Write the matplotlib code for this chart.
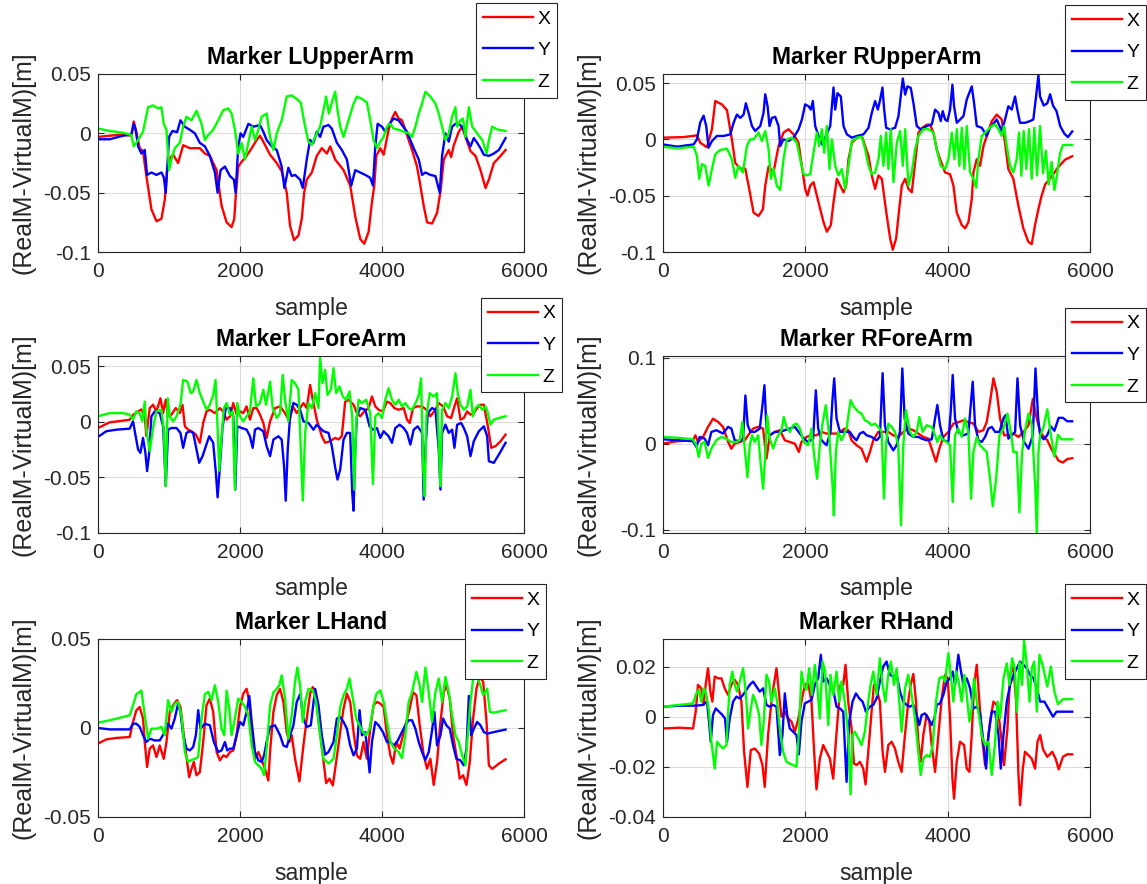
import numpy as np
import matplotlib
matplotlib.use('Agg')
import matplotlib.pyplot as plt
from matplotlib.ticker import FuncFormatter

plt.rcParams['font.family'] = ['Liberation Sans', 'DejaVu Sans']
plt.rcParams['axes.unicode_minus'] = False

# (sample, RealM-VirtualM [m]), one list per marker/axis

# Marker LUpperArm
lu_x = [(0,-0.003),(165,-0.002),(353,-0.001),(470,-0.002),(504,0.010),(541,0.001),(588,-0.0125),(635,-0.015),(682,-0.036),(753,-0.064),(824,-0.074),(894,-0.072),(941,-0.056),(974,-0.031),(1012,-0.021),(1059,-0.018),(1129,-0.025),(1200,-0.010),(1294,-0.0125),(1435,-0.0125),(1506,-0.017),(1576,-0.019),(1671,-0.031),(1741,-0.061),(1812,-0.075),(1882,-0.079),(1920,-0.072),(1944,-0.050),(1976,-0.028),(2024,-0.024),(2094,-0.019),(2165,-0.0125),(2235,-0.0056),(2282,-0.002),(2329,-0.007),(2424,-0.018),(2518,-0.025),(2588,-0.032),(2659,-0.050),(2706,-0.078),(2762,-0.090),(2824,-0.086),(2871,-0.072),(2904,-0.050),(2941,-0.039),(3012,-0.033),(3082,-0.019),(3153,-0.0125),(3224,-0.017),(3271,-0.011),(3341,-0.022),(3459,-0.031),(3553,-0.044),(3624,-0.070),(3694,-0.089),(3751,-0.093),(3812,-0.083),(3859,-0.058),(3892,-0.044),(3920,-0.019),(3976,-0.0125),(4024,-0.018),(4094,0.003),(4141,0.0125),(4188,0.018),(4235,0.0125),(4282,0.011),(4329,0.003),(4376,-0.0056),(4424,-0.014),(4494,-0.028),(4541,-0.044),(4588,-0.061),(4635,-0.075),(4706,-0.076),(4776,-0.067),(4824,-0.049),(4871,-0.022),(4941,-0.014),(4974,-0.020),(5012,-0.010),(5082,0.0014),(5129,0.0056),(5176,-0.003),(5247,-0.015),(5318,-0.019),(5388,-0.031),(5459,-0.046),(5506,-0.039),(5576,-0.025),(5671,-0.019),(5741,-0.014)]
lu_y = [(0,-0.005),(165,-0.005),(353,-0.002),(470,-0.001),(504,0.008),(531,0.003),(565,-0.011),(612,-0.017),(659,-0.014),(692,-0.035),(753,-0.033),(824,-0.035),(894,-0.033),(927,-0.037),(955,-0.050),(974,-0.031),(1002,-0.003),(1049,0.002),(1115,0.001),(1162,0.011),(1224,0.0056),(1294,0.003),(1365,0.0),(1435,-0.008),(1506,-0.011),(1576,-0.019),(1647,-0.033),(1685,-0.050),(1727,-0.031),(1788,-0.028),(1859,-0.036),(1915,-0.039),(1939,-0.050),(1976,-0.011),(2009,0.0),(2047,-0.003),(2118,0.008),(2188,0.0056),(2282,0.007),(2329,0.0014),(2376,-0.0056),(2447,-0.011),(2518,-0.014),(2588,-0.028),(2626,-0.046),(2682,-0.029),(2729,-0.036),(2776,-0.035),(2847,-0.039),(2885,-0.046),(2941,-0.022),(2988,-0.0056),(3035,-0.008),(3082,0.0014),(3129,-0.003),(3176,0.0056),(3247,0.007),(3294,0.004),(3365,-0.008),(3435,-0.014),(3506,-0.022),(3567,-0.044),(3624,-0.031),(3694,-0.033),(3765,-0.035),(3835,-0.0375),(3873,-0.044),(3906,-0.011),(3939,0.008),(4000,0.0056),(4047,0.0014),(4094,0.007),(4165,0.0125),(4235,0.011),(4282,0.007),(4353,0.0014),(4400,-0.0056),(4447,-0.0125),(4518,-0.022),(4565,-0.035),(4612,-0.033),(4682,-0.035),(4753,-0.036),(4814,-0.050),(4847,-0.019),(4894,0.0),(4941,-0.007),(4988,0.0056),(5035,0.008),(5106,0.007),(5153,0.003),(5200,-0.0056),(5247,-0.011),(5294,-0.004),(5341,-0.008),(5388,-0.0125),(5435,-0.018),(5506,-0.019),(5576,-0.017),(5647,-0.014),(5741,-0.004)]
lu_z = [(0,0.004),(165,0.002),(353,0.0005),(470,-0.0014),(504,-0.011),(565,-0.0056),(635,0.0014),(706,0.022),(776,0.0236),(847,0.021),(894,0.022),(927,0.008),(965,0.003),(1002,-0.031),(1035,-0.022),(1082,-0.0125),(1153,-0.008),(1200,0.0056),(1247,0.014),(1318,0.011),(1388,0.019),(1459,0.008),(1506,-0.0056),(1553,-0.0014),(1623,0.003),(1694,0.011),(1765,0.0195),(1835,0.021),(1882,0.0167),(1929,0.003),(1976,-0.017),(2024,-0.008),(2071,-0.022),(2118,-0.008),(2165,0.0056),(2212,-0.0056),(2259,0.003),(2306,0.014),(2376,0.0167),(2424,-0.003),(2471,-0.014),(2518,0.0),(2588,0.011),(2659,0.031),(2729,0.032),(2800,0.029),(2856,0.026),(2918,0.0056),(2965,-0.007),(3012,-0.0097),(3059,-0.003),(3129,0.0056),(3176,0.0195),(3214,0.031),(3252,0.0167),(3294,0.026),(3341,0.035),(3374,0.0195),(3412,0.0056),(3459,-0.003),(3529,0.011),(3600,0.025),(3647,0.031),(3718,0.029),(3788,0.026),(3835,0.011),(3882,-0.0056),(3929,-0.0125),(3976,-0.007),(4024,-0.003),(4071,0.0056),(4118,0.008),(4165,0.004),(4235,0.003),(4306,0.0014),(4376,0.0),(4424,-0.003),(4471,0.0056),(4518,0.0167),(4565,0.025),(4612,0.035),(4682,0.031),(4753,0.025),(4800,0.0167),(4847,0.0056),(4894,-0.0056),(4941,0.0),(4988,0.014),(5035,0.022),(5059,0.0056),(5106,0.011),(5141,0.0125),(5176,-0.003),(5224,0.022),(5271,0.0056),(5341,0.0),(5412,-0.0056),(5474,-0.017),(5506,-0.0056),(5553,0.0056),(5623,0.0033),(5741,0.002)]

# Marker RUpperArm
ru_x = [(0,0.0015),(290,0.002),(477,0.0035),(524,-0.003),(618,-0.007),(688,0.009),(735,0.034),(828,0.031),(899,0.026),(968,0.0),(1016,-0.021),(1086,-0.026),(1156,-0.026),(1203,-0.041),(1273,-0.065),(1343,-0.068),(1404,-0.062),(1437,-0.041),(1484,-0.024),(1554,-0.029),(1624,-0.006),(1694,0.006),(1764,0.009),(1835,0.0044),(1905,-0.003),(1952,-0.024),(1998,-0.044),(2031,-0.050),(2069,-0.041),(2115,-0.038),(2186,-0.056),(2256,-0.0735),(2303,-0.082),(2359,-0.076),(2396,-0.056),(2443,-0.035),(2490,-0.041),(2537,-0.047),(2574,-0.041),(2607,-0.0176),(2654,-0.003),(2724,0.0015),(2794,0.003),(2841,-0.006),(2888,-0.0147),(2934,-0.032),(2981,-0.044),(3028,-0.032),(3075,-0.035),(3145,-0.068),(3192,-0.088),(3229,-0.098),(3276,-0.088),(3309,-0.068),(3356,-0.041),(3403,-0.035),(3450,-0.044),(3496,-0.047),(3543,-0.0205),(3590,0.006),(3637,0.010),(3707,0.013),(3753,0.013),(3800,0.006),(3847,-0.009),(3894,-0.0176),(3964,-0.0294),(4034,-0.031),(4081,-0.041),(4128,-0.065),(4198,-0.076),(4245,-0.079),(4292,-0.0735),(4339,-0.053),(4362,-0.0294),(4409,-0.0176),(4456,-0.0235),(4503,-0.006),(4549,0.003),(4619,0.016),(4690,0.022),(4760,0.0176),(4806,-0.003),(4853,-0.0264),(4923,-0.035),(4994,-0.059),(5064,-0.079),(5134,-0.091),(5181,-0.093),(5228,-0.076),(5275,-0.062),(5320,-0.05),(5370,-0.04),(5450,-0.034),(5550,-0.025),(5650,-0.018),(5750,-0.015)]
ru_y = [(0,-0.0045),(197,-0.0065),(431,-0.0045),(477,0.0),(524,0.015),(571,0.021),(608,0.0118),(641,-0.0074),(688,-0.0015),(758,0.003),(852,0.003),(946,0.0044),(992,0.0147),(1039,0.022),(1086,0.019),(1133,0.022),(1165,0.032),(1203,0.0235),(1250,0.0118),(1296,0.0074),(1367,0.0118),(1413,0.0235),(1437,0.040),(1470,0.0294),(1497,0.0118),(1530,0.019),(1577,0.020),(1624,0.0118),(1647,-0.006),(1694,0.0),(1764,-0.0015),(1835,0.0015),(1905,0.0088),(1952,0.0176),(1998,0.031),(2045,0.0294),(2078,0.0264),(2106,0.034),(2139,0.0118),(2186,0.003),(2232,-0.0044),(2279,0.0015),(2350,0.0118),(2396,0.046),(2420,0.0264),(2452,0.041),(2499,0.038),(2537,0.0118),(2584,0.0044),(2654,0.0015),(2724,0.003),(2817,0.0044),(2888,0.0103),(2934,0.0235),(2981,0.034),(3019,0.0264),(3051,0.035),(3084,0.046),(3108,0.0264),(3136,0.0103),(3192,0.0088),(3262,0.0103),(3309,0.0206),(3346,0.041),(3370,0.054),(3403,0.0397),(3435,0.047),(3482,0.0456),(3519,0.0323),(3566,0.0118),(3622,0.0088),(3707,0.0118),(3777,0.0132),(3824,0.0264),(3871,0.0235),(3903,0.0162),(3931,0.025),(3964,0.0176),(3997,0.0162),(4034,0.0264),(4067,0.0485),(4090,0.0294),(4128,0.0147),(4175,0.0176),(4222,0.0206),(4268,0.0353),(4339,0.047),(4371,0.0323),(4409,0.0118),(4479,0.0103),(4549,0.003),(4596,0.0103),(4690,0.0176),(4760,0.0074),(4806,0.0176),(4853,0.0294),(4900,0.0264),(4947,0.038),(4979,0.0264),(5017,0.0147),(5087,0.0147),(5157,0.0162),(5204,0.0176),(5242,0.038),(5275,0.057),(5298,0.038),(5350,0.03),(5400,0.032),(5440,0.04),(5480,0.03),(5530,0.025),(5580,0.012),(5640,0.005),(5690,0.002),(5750,0.007)]
ru_z = [(0,-0.0065),(197,-0.008),(431,-0.0065),(477,-0.0147),(510,-0.035),(548,-0.022),(594,-0.0235),(641,-0.041),(688,-0.0264),(735,-0.0132),(805,-0.0094),(899,-0.0082),(968,-0.0176),(1016,-0.034),(1062,-0.0235),(1123,-0.0294),(1179,-0.006),(1226,0.0),(1273,0.0),(1343,0.006),(1390,-0.0015),(1437,0.0074),(1484,-0.0088),(1516,-0.035),(1554,-0.0264),(1600,-0.041),(1647,-0.045),(1694,-0.0176),(1741,0.0),(1811,0.0015),(1881,-0.003),(1928,-0.0176),(1975,-0.0308),(2022,-0.032),(2069,-0.0308),(2115,-0.0118),(2162,0.006),(2195,-0.006),(2232,0.009),(2265,-0.0118),(2303,0.012),(2340,-0.0264),(2373,0.0),(2420,-0.0235),(2466,-0.032),(2513,-0.0264),(2560,-0.044),(2607,-0.0235),(2654,-0.0015),(2724,0.0015),(2794,0.0024),(2841,-0.0088),(2888,-0.0235),(2934,-0.0308),(2981,-0.0294),(3028,-0.0176),(3061,0.003),(3098,-0.0235),(3136,0.006),(3168,-0.0264),(3201,0.009),(3239,-0.038),(3286,-0.003),(3332,0.0074),(3370,-0.0235),(3403,0.009),(3450,-0.041),(3496,-0.0294),(3543,-0.009),(3590,0.003),(3660,0.009),(3730,0.009),(3800,0.006),(3847,-0.009),(3903,-0.0235),(3964,-0.0264),(4011,-0.0176),(4058,0.006),(4095,-0.0176),(4128,0.009),(4165,-0.0235),(4198,0.0103),(4235,-0.0264),(4268,0.0118),(4315,-0.0294),(4362,-0.035),(4400,-0.043),(4432,-0.0176),(4479,0.003),(4549,0.0074),(4619,0.0118),(4666,0.0132),(4713,0.009),(4760,0.003),(4793,0.0118),(4830,-0.006),(4877,-0.0235),(4923,-0.0294),(4970,-0.0176),(5003,0.006),(5036,-0.0323),(5068,0.0074),(5106,-0.0264),(5143,0.009),(5181,-0.035),(5218,0.0103),(5256,-0.032),(5298,0.0118),(5340,-0.03),(5380,-0.01),(5420,-0.04),(5460,-0.02),(5500,-0.045),(5540,-0.03),(5580,-0.012),(5620,-0.005),(5750,-0.005)]

# Marker LForeArm
lf_x = [(0,-0.0057),(165,-0.0006),(353,0.0009),(447,0.0018),(494,0.006),(565,0.0092),(612,0.011),(659,0.0048),(682,-0.013),(729,0.0122),(776,0.0152),(824,0.0092),(880,0.021),(918,0.0077),(955,0.0197),(988,0.0048),(1035,0.0063),(1096,0.0122),(1153,0.0077),(1191,0.015),(1224,-0.0042),(1270,-0.0072),(1318,-0.0086),(1379,-0.0116),(1435,-0.019),(1482,-0.0012),(1529,0.0092),(1576,0.0107),(1647,0.0077),(1718,0.0122),(1765,0.0092),(1812,0.0018),(1859,0.0048),(1906,0.0167),(1953,0.0063),(2000,0.0092),(2047,0.0077),(2094,0.0137),(2141,0.0018),(2188,0.0122),(2235,0.0122),(2282,0.0063),(2329,-0.0012),(2376,-0.0146),(2424,0.0003),(2494,0.0122),(2565,0.0137),(2635,0.0077),(2697,0.0003),(2744,0.0137),(2800,0.0077),(2847,0.0122),(2894,0.0167),(2941,0.0122),(2988,0.033),(3026,0.0196),(3082,0.0018),(3153,-0.013),(3200,-0.019),(3271,-0.0175),(3341,-0.0146),(3388,-0.016),(3435,-0.013),(3482,0.018),(3529,0.0196),(3600,0.0152),(3647,0.0077),(3694,0.0048),(3751,0.0092),(3812,0.0122),(3859,0.0226),(3906,0.0137),(3953,0.0107),(4014,0.0092),(4071,0.018),(4118,0.0167),(4174,0.0122),(4235,0.0107),(4306,0.0122),(4353,0.0018),(4391,-0.0012),(4438,0.0122),(4494,0.0137),(4565,0.0137),(4626,0.0107),(4682,0.0048),(4753,0.0107),(4800,0.0167),(4861,0.0137),(4918,0.0048),(4974,0.0033),(5021,0.0137),(5059,0.021),(5106,0.0018),(5153,0.0033),(5200,0.0092),(5247,0.0063),(5294,0.0077),(5341,0.0122),(5388,0.0152),(5435,0.0152),(5492,-0.0042),(5539,-0.0235),(5600,-0.022),(5671,-0.0176),(5741,-0.0116)]
lf_y = [(0,-0.0137),(118,-0.0086),(259,-0.0072),(447,-0.0063),(494,0.0003),(531,-0.013),(565,-0.025),(598,-0.028),(635,-0.0146),(668,-0.028),(692,-0.0444),(720,-0.0295),(753,0.0048),(800,0.0092),(870,0.0077),(918,-0.0042),(955,-0.0578),(988,-0.0072),(1035,-0.0057),(1106,-0.0057),(1162,-0.0101),(1200,-0.0235),(1247,-0.0101),(1294,-0.0086),(1341,-0.0101),(1388,-0.025),(1426,-0.037),(1473,-0.031),(1520,-0.022),(1567,-0.0131),(1623,-0.019),(1661,-0.046),(1685,-0.068),(1718,-0.0399),(1755,-0.0042),(1802,0.0122),(1859,0.0122),(1906,0.0048),(1934,-0.061),(1962,-0.0042),(2024,-0.0057),(2094,-0.0072),(2141,-0.0131),(2179,-0.0235),(2212,-0.0072),(2259,-0.0057),(2329,-0.0086),(2376,-0.022),(2424,-0.031),(2471,-0.0161),(2541,-0.0131),(2588,-0.0161),(2621,-0.0399),(2645,-0.071),(2673,-0.0250),(2706,0.0048),(2753,0.0167),(2800,0.0152),(2847,0.0107),(2894,0.0003),(2965,-0.0012),(3035,-0.0072),(3082,-0.0027),(3129,-0.0057),(3176,-0.0086),(3247,-0.0101),(3294,-0.022),(3341,-0.041),(3374,-0.052),(3412,-0.043),(3459,-0.0161),(3506,-0.0101),(3553,-0.0101),(3581,-0.064),(3600,-0.080),(3624,-0.025),(3647,0.0048),(3694,0.0122),(3765,0.0107),(3826,-0.0042),(3873,-0.0072),(3929,-0.0057),(3976,-0.0146),(4024,-0.0086),(4094,-0.0131),(4141,-0.019),(4188,-0.0057),(4249,-0.0027),(4306,-0.0057),(4353,-0.0101),(4400,-0.0206),(4447,-0.0072),(4503,-0.0042),(4565,-0.0101),(4588,-0.070),(4612,-0.025),(4645,0.0077),(4706,0.0122),(4753,0.0107),(4800,-0.025),(4824,-0.061),(4847,-0.0101),(4894,-0.0027),(4941,-0.0101),(4988,-0.0072),(5021,-0.0235),(5059,-0.0027),(5115,-0.0012),(5153,-0.0057),(5200,-0.0131),(5247,-0.031),(5294,-0.0175),(5365,-0.0086),(5435,-0.0042),(5482,-0.0131),(5506,-0.0355),(5576,-0.037),(5647,-0.0295),(5741,-0.019)]
lf_z = [(0,0.0048),(165,0.0077),(353,0.0077),(447,0.0063),(494,0.0018),(541,0.0092),(588,0.0077),(626,0.0003),(659,0.018),(682,-0.0072),(729,-0.0265),(776,-0.0057),(824,0.0092),(894,0.0107),(927,-0.0072),(955,-0.058),(983,0.021),(1012,0.0048),(1059,0.0003),(1106,0.0048),(1162,0.0152),(1200,0.0375),(1261,0.036),(1308,0.0256),(1341,0.027),(1388,0.0375),(1435,0.0256),(1482,0.0182),(1529,0.0107),(1576,0.0152),(1623,0.024),(1656,0.0375),(1680,0.0018),(1708,-0.044),(1741,-0.0131),(1774,0.0122),(1812,0.0167),(1859,0.0063),(1897,0.0092),(1929,-0.061),(1962,0.0167),(2000,0.0048),(2047,0.0003),(2094,0.0048),(2141,0.0092),(2188,0.039),(2226,0.0137),(2282,0.0167),(2329,0.0286),(2367,0.0152),(2424,0.036),(2461,0.0122),(2518,0.0033),(2565,0.0077),(2602,0.042),(2635,0.0197),(2682,0.0003),(2729,0.0375),(2776,0.0346),(2824,0.0286),(2856,-0.025),(2885,-0.071),(2918,-0.0101),(2965,0.0167),(3012,0.0122),(3059,0.0256),(3106,0.0122),(3129,0.058),(3162,0.0346),(3200,0.0465),(3233,0.024),(3280,0.0286),(3318,0.048),(3355,0.0256),(3402,0.0316),(3449,0.0226),(3496,0.0197),(3543,0.0271),(3581,0.0048),(3609,-0.061),(3638,-0.0012),(3671,0.0197),(3718,0.0167),(3779,0.0197),(3835,0.0077),(3873,-0.056),(3906,0.0048),(3953,0.0077),(4000,0.0033),(4047,0.0197),(4094,0.030),(4141,0.0197),(4188,0.0152),(4235,0.0197),(4282,0.0137),(4329,0.0167),(4376,0.0122),(4424,0.0107),(4485,0.0182),(4518,0.024),(4551,0.039),(4579,-0.0399),(4603,-0.067),(4626,0.0048),(4673,0.0256),(4729,0.0226),(4776,0.0256),(4804,-0.025),(4824,-0.058),(4847,0.0107),(4894,0.0167),(4941,0.0122),(4988,0.0226),(5035,0.0435),(5068,0.0256),(5106,0.0152),(5153,0.0107),(5200,0.0137),(5247,0.0286),(5280,0.0048),(5318,0.0122),(5365,0.0152),(5412,0.0107),(5459,0.0137),(5492,0.0077),(5529,-0.0027),(5576,0.0018),(5647,0.0033),(5741,0.0048)]

# Marker RForeArm
rf_x = [(0,0.0),(188,0.0027),(422,0.0039),(455,0.0097),(492,0.0019),(563,0.0078),(633,0.0195),(703,0.029),(774,0.0253),(844,0.0195),(915,0.0019),(961,-0.006),(1008,0.0),(1079,0.0019),(1149,0.0039),(1196,0.0097),(1266,0.0175),(1337,0.0195),(1407,0.0175),(1454,-0.0175),(1501,0.0097),(1571,0.0136),(1642,0.0156),(1712,0.0039),(1782,0.0019),(1853,0.0),(1909,-0.0097),(1946,0.0019),(2017,0.0078),(2087,0.0097),(2157,0.0097),(2228,0.0136),(2298,0.0117),(2368,0.0117),(2439,0.0117),(2486,0.0136),(2556,0.0175),(2603,0.0156),(2650,0.0039),(2720,-0.0019),(2790,-0.006),(2861,-0.021),(2908,-0.0097),(2955,0.0039),(3025,0.0136),(3095,0.0136),(3166,0.0136),(3236,0.0097),(3306,0.0078),(3377,0.0136),(3447,0.0175),(3518,0.0156),(3588,0.0117),(3658,0.0078),(3729,0.0058),(3790,-0.0097),(3836,-0.021),(3883,-0.006),(3940,0.0078),(4010,0.0136),(4080,0.0233),(4150,0.025),(4221,0.027),(4291,0.025),(4362,0.0233),(4432,0.0136),(4502,0.0156),(4549,0.0253),(4596,0.0486),(4643,0.076),(4690,0.060),(4737,0.029),(4793,0.0097),(4854,0.0097),(4924,0.0117),(4995,0.0078),(5065,0.0136),(5136,0.0214),(5197,0.052),(5253,0.029),(5300,0.0136),(5350,0.008),(5400,0.004),(5450,-0.005),(5500,-0.012),(5560,-0.02),(5620,-0.022),(5680,-0.018),(5750,-0.017)]
rf_y = [(0,0.005),(235,0.0039),(422,0.0027),(469,-0.0039),(516,0.0078),(586,0.0058),(633,-0.0019),(680,0.0136),(750,0.0156),(844,0.0117),(915,0.0195),(961,0.0175),(1008,0.0039),(1079,0.0027),(1126,0.0058),(1158,0.056),(1191,0.0214),(1229,0.0136),(1290,0.0136),(1360,0.0175),(1398,0.0447),(1426,0.068),(1454,0.0175),(1501,0.0097),(1571,0.0136),(1642,0.0136),(1712,0.0156),(1782,0.0175),(1853,0.0195),(1923,0.0117),(1979,0.0058),(2040,0.0019),(2110,0.0058),(2148,0.062),(2181,0.0175),(2228,0.0039),(2298,-0.0019),(2354,0.0136),(2383,0.0525),(2406,0.076),(2439,0.0292),(2486,0.0136),(2556,0.0136),(2626,0.0136),(2673,0.0078),(2720,0.0039),(2767,0.0117),(2814,0.0136),(2861,0.0097),(2931,0.0078),(3002,0.0039),(3048,0.0078),(3086,0.082),(3119,0.0214),(3166,0.0019),(3236,-0.0078),(3283,-0.0019),(3330,0.0136),(3363,0.0875),(3396,0.0292),(3447,0.0117),(3518,0.0078),(3588,0.0078),(3635,0.0058),(3705,0.0039),(3776,0.005),(3823,0.0292),(3855,0.045),(3893,0.0214),(3940,0.0039),(4010,0.0019),(4043,0.0370),(4071,0.080),(4104,0.0292),(4150,0.0136),(4221,0.0097),(4291,0.0117),(4324,0.0447),(4352,0.072),(4385,0.0214),(4432,0.0039),(4479,0.0019),(4526,0.0078),(4573,0.0175),(4620,0.0195),(4667,0.0136),(4728,0.0136),(4784,0.0292),(4812,0.0331),(4854,0.0058),(4901,0.0097),(4948,0.0136),(4981,0.076),(5018,0.0214),(5074,0.0019),(5136,-0.006),(5197,0.0097),(5234,0.0875),(5272,0.0292),(5300,0.0097),(5350,0.005),(5400,0.01),(5450,0.02),(5500,0.015),(5560,0.03),(5620,0.03),(5680,0.026),(5750,0.026)]
rf_z = [(0,0.0078),(235,0.0066),(422,0.005),(469,-0.0019),(502,-0.0155),(539,0.0),(586,0.0019),(633,-0.0167),(680,-0.0058),(750,0.0039),(821,0.0078),(891,0.0058),(961,0.0019),(1032,0.0019),(1079,0.0039),(1116,0.0253),(1149,-0.0058),(1187,-0.039),(1220,-0.0019),(1252,0.0097),(1290,0.0019),(1337,0.0097),(1370,-0.0214),(1407,-0.0525),(1440,-0.0097),(1463,0.033),(1501,0.0058),(1548,-0.0058),(1595,0.0058),(1665,0.0156),(1698,0.031),(1735,0.0195),(1782,0.0136),(1829,0.0214),(1876,0.0233),(1923,0.0175),(1979,0.0019),(2040,-0.0019),(2087,0.0175),(2124,-0.0136),(2166,-0.041),(2204,-0.0019),(2241,0.0233),(2288,0.0447),(2335,0.0097),(2383,-0.049),(2401,-0.0836),(2429,-0.0097),(2462,0.0136),(2509,0.0039),(2580,0.0175),(2636,0.0506),(2683,0.0428),(2744,0.037),(2790,0.035),(2837,0.0272),(2884,0.0253),(2931,0.0214),(2978,0.0233),(3025,0.0195),(3072,0.0136),(3105,-0.064),(3133,-0.0019),(3166,0.0233),(3213,0.0195),(3260,0.0136),(3306,-0.0019),(3344,-0.095),(3377,-0.0019),(3414,0.039),(3471,0.0136),(3518,0.0078),(3565,0.0136),(3602,0.031),(3649,0.0136),(3705,0.0214),(3776,0.0195),(3823,0.0097),(3855,0.0019),(3893,0.0097),(3940,0.0039),(3987,0.0019),(4034,-0.0019),(4071,-0.068),(4104,0.0097),(4150,0.0175),(4197,0.0078),(4244,0.0292),(4291,0.0136),(4329,-0.064),(4362,-0.0097),(4409,0.0078),(4456,-0.0019),(4502,-0.006),(4549,-0.0097),(4596,-0.041),(4634,-0.073),(4681,-0.041),(4728,0.0097),(4784,0.0175),(4840,0.035),(4887,0.0136),(4924,-0.0097),(4971,-0.0097),(5009,-0.080),(5046,-0.0097),(5093,0.0175),(5136,0.035),(5183,0.0214),(5230,-0.049),(5253,-0.105),(5276,-0.0097),(5300,0.0097),(5350,0.02),(5400,0.04),(5450,0.01),(5500,-0.015),(5550,0.01),(5600,0.005),(5750,0.005)]

# Marker LHand
lh_x = [(0,-0.0088),(118,-0.0064),(259,-0.0056),(447,-0.0051),(494,0.0034),(541,0.0099),(588,0.0118),(635,0.0053),(659,-0.0079),(692,-0.0219),(729,-0.0116),(776,-0.0098),(824,-0.0163),(870,-0.0098),(927,-0.0173),(965,-0.0079),(1012,0.0090),(1068,0.0135),(1115,0.0156),(1162,0.0118),(1209,-0.0041),(1256,-0.0191),(1285,-0.0276),(1318,-0.0229),(1350,-0.0191),(1388,-0.0266),(1435,-0.0248),(1482,-0.0079),(1529,0.0128),(1576,0.0165),(1623,0.009),(1671,-0.0135),(1718,-0.0182),(1765,-0.0154),(1812,-0.0163),(1859,-0.0135),(1906,-0.0126),(1953,-0.0041),(2000,0.0118),(2047,0.0193),(2094,0.022),(2132,0.0146),(2165,-0.0041),(2212,-0.0173),(2259,-0.0135),(2306,-0.0182),(2353,-0.0229),(2400,-0.0295),(2424,-0.0135),(2471,0.009),(2518,0.0184),(2565,0.022),(2612,0.0146),(2659,-0.0023),(2697,-0.0079),(2729,-0.0041),(2776,-0.0173),(2838,-0.030),(2894,-0.0098),(2941,0.0053),(2988,0.0193),(3026,0.023),(3073,0.0165),(3120,-0.0004),(3167,-0.0154),(3214,-0.031),(3261,-0.0285),(3308,-0.0323),(3355,-0.0191),(3412,-0.0023),(3459,0.0109),(3506,0.0193),(3553,0.0146),(3600,-0.0023),(3647,-0.0154),(3694,-0.0173),(3741,-0.0079),(3788,-0.0173),(3835,-0.0004),(3882,0.0128),(3929,0.0146),(3976,0.0137),(4024,0.0118),(4071,-0.0041),(4118,-0.0154),(4156,-0.020),(4202,-0.0079),(4249,-0.0116),(4296,-0.0041),(4343,0.0034),(4391,0.0109),(4438,0.020),(4485,0.0184),(4532,0.0015),(4588,-0.0154),(4635,-0.0229),(4682,-0.0173),(4729,-0.032),(4776,-0.0191),(4824,0.0034),(4871,0.020),(4908,0.024),(4955,0.0165),(5002,-0.0041),(5049,-0.0154),(5096,-0.0285),(5143,-0.0266),(5190,-0.032),(5237,-0.0191),(5284,0.0053),(5331,0.022),(5378,0.0287),(5426,0.0259),(5473,0.0034),(5506,-0.0210),(5553,-0.023),(5647,-0.020),(5741,-0.0176)]
lh_y = [(0,0.0),(165,-0.0008),(447,-0.0008),(494,0.0024),(541,0.0024),(588,0.0006),(635,-0.0041),(682,-0.0079),(729,-0.006),(800,-0.007),(870,-0.007),(941,-0.0023),(988,0.0024),(1035,-0.0004),(1082,0.0053),(1129,0.0137),(1162,0.009),(1200,-0.0041),(1247,-0.0116),(1294,-0.0126),(1341,-0.0107),(1379,-0.0041),(1412,0.010),(1445,-0.0004),(1506,0.0024),(1576,0.0015),(1633,-0.0079),(1694,-0.0135),(1741,-0.0126),(1788,-0.0079),(1821,-0.0126),(1859,-0.0116),(1906,-0.0116),(1953,-0.0041),(2000,0.0034),(2047,0.0015),(2094,0.009),(2132,0.018),(2165,0.0034),(2212,-0.0135),(2259,-0.0182),(2306,-0.0191),(2339,-0.0154),(2376,-0.0079),(2424,0.0006),(2494,0.0015),(2565,-0.0041),(2612,-0.0098),(2659,-0.0107),(2706,-0.0041),(2753,0.0015),(2800,0.0146),(2847,0.019),(2894,0.0053),(2941,0.0006),(2998,0.0015),(3059,0.022),(3106,0.0128),(3153,-0.0041),(3200,-0.015),(3247,-0.0135),(3318,-0.0079),(3365,0.0053),(3412,0.0062),(3459,0.0034),(3506,-0.0004),(3553,-0.0098),(3600,-0.0154),(3647,-0.0116),(3685,0.010),(3718,-0.0041),(3765,-0.0023),(3798,-0.0135),(3826,-0.025),(3859,-0.0079),(3906,0.0034),(3953,0.0015),(4014,-0.0023),(4071,-0.0079),(4118,-0.0079),(4165,-0.0098),(4212,-0.0079),(4259,-0.0041),(4329,0.0015),(4376,0.0043),(4424,0.0043),(4471,-0.0004),(4518,-0.0079),(4565,-0.0135),(4612,-0.018),(4659,-0.0135),(4706,-0.0013),(4739,0.0090),(4776,-0.0098),(4824,-0.0041),(4861,0.0053),(4908,0.0015),(4955,-0.0004),(5002,-0.0098),(5049,-0.0173),(5106,-0.0182),(5153,-0.021),(5190,-0.0116),(5224,0.018),(5256,-0.0041),(5294,-0.0004),(5341,0.0034),(5388,0.0015),(5435,-0.0023),(5482,-0.0032),(5576,-0.0023),(5741,-0.0009)]
lh_z = [(0,0.003),(165,0.0043),(353,0.0062),(447,0.0071),(494,0.0128),(541,0.019),(612,0.021),(659,0.0071),(706,-0.006),(753,-0.0004),(824,-0.0004),(894,0.0006),(941,-0.0041),(988,0.0156),(1035,0.009),(1082,0.0137),(1129,0.0146),(1176,0.0071),(1224,-0.0135),(1270,-0.019),(1318,-0.018),(1365,-0.0173),(1412,-0.0163),(1459,0.0053),(1506,0.019),(1553,0.0203),(1600,0.0156),(1647,0.024),(1694,0.0146),(1741,-0.0004),(1779,-0.0041),(1812,0.021),(1849,0.0109),(1882,-0.0041),(1929,0.0053),(1976,0.0165),(2024,0.0146),(2071,0.0118),(2118,0.0071),(2165,-0.0098),(2212,-0.0191),(2259,-0.021),(2306,-0.0229),(2339,-0.0266),(2376,-0.0116),(2424,0.0128),(2471,0.020),(2518,0.022),(2555,0.024),(2588,0.0296),(2635,0.0165),(2682,-0.006),(2729,0.0071),(2776,0.0259),(2809,0.034),(2847,0.0240),(2885,0.0034),(2918,0.0146),(2965,0.022),(3026,0.0212),(3073,0.0146),(3129,-0.0041),(3176,-0.0173),(3247,-0.020),(3318,-0.0173),(3365,-0.0041),(3412,0.0118),(3459,0.0184),(3506,0.022),(3543,0.0278),(3590,0.0165),(3638,0.0053),(3685,0.0015),(3732,-0.0023),(3779,-0.0041),(3826,-0.0004),(3873,0.0109),(3920,0.019),(3976,0.0212),(4024,0.0146),(4071,0.0034),(4118,-0.0079),(4174,-0.0116),(4235,-0.0135),(4282,-0.017),(4329,-0.0041),(4376,0.0146),(4424,0.020),(4485,0.0315),(4532,0.024),(4565,0.0146),(4612,0.034),(4659,0.020),(4706,0.0034),(4753,0.020),(4800,0.0278),(4847,0.0146),(4894,0.0287),(4941,0.020),(4988,0.0071),(5035,-0.0041),(5082,-0.0079),(5129,-0.0154),(5176,-0.021),(5209,-0.0041),(5247,0.0146),(5284,0.0278),(5331,0.0296),(5378,0.025),(5426,0.0184),(5482,0.0221),(5520,0.009),(5576,0.0086),(5741,0.01)]

# Marker RHand
rh_x = [(0,-0.0047),(235,-0.0044),(422,-0.0047),(460,0.002),(492,0.0127),(539,0.0113),(572,0.0047),(600,0.0127),(633,0.0193),(666,0.01),(694,0.006),(727,0.016),(774,0.0153),(821,0.0153),(868,0.0113),(915,0.0087),(961,0.0127),(1008,0.0147),(1055,0.0127),(1102,0.006),(1140,-0.014),(1187,-0.028),(1234,-0.0133),(1290,-0.0127),(1351,-0.0147),(1398,-0.0193),(1430,-0.028),(1477,-0.0073),(1524,0.006),(1557,0.0127),(1595,0.0193),(1632,0.0087),(1665,0.0),(1712,0.002),(1759,-0.0007),(1806,-0.002),(1853,-0.006),(1899,-0.0013),(1946,0.006),(1993,0.0127),(2040,0.0133),(2087,0.006),(2124,-0.014),(2157,-0.029),(2204,-0.0167),(2251,-0.0113),(2298,-0.014),(2345,-0.0167),(2392,-0.0247),(2429,-0.01),(2462,0.002),(2495,0.0127),(2533,0.0127),(2565,0.0207),(2603,0.006),(2650,-0.0047),(2683,-0.0187),(2720,-0.0193),(2767,-0.018),(2814,-0.0207),(2847,-0.027),(2884,-0.014),(2931,0.002),(2964,0.0127),(3002,0.0107),(3048,0.006),(3086,-0.014),(3119,-0.022),(3166,-0.0113),(3213,-0.01),(3260,-0.0127),(3306,-0.018),(3353,-0.022),(3400,-0.0073),(3447,0.006),(3480,0.0127),(3518,0.017),(3555,0.006),(3588,-0.01),(3621,-0.018),(3658,-0.0073),(3705,0.0007),(3743,-0.002),(3776,-0.0113),(3823,-0.022),(3870,-0.0073),(3916,0.0073),(3963,0.0167),(4001,0.0153),(4034,-0.0007),(4067,-0.0247),(4090,-0.0327),(4127,-0.018),(4174,-0.01),(4231,-0.0113),(4268,-0.0207),(4306,-0.022),(4338,-0.0073),(4371,0.0127),(4409,0.0207),(4446,0.006),(4479,-0.0073),(4526,-0.0193),(4559,-0.0113),(4596,-0.002),(4643,0.006),(4690,0.0047),(4727,-0.002),(4760,-0.01),(4793,-0.0193),(4840,-0.0047),(4878,0.0167),(4925,0.020),(4962,0.006),(4995,-0.0233),(5018,-0.0353),(5056,-0.0207),(5087,-0.014),(5134,-0.0153),(5181,-0.0167),(5228,-0.0207),(5262,-0.01),(5300,-0.0073),(5340,-0.013),(5400,-0.016),(5470,-0.014),(5520,-0.017),(5560,-0.021),(5620,-0.016),(5680,-0.015),(5750,-0.015)]
rh_y = [(0,0.004),(235,0.0044),(469,0.0044),(563,0.0047),(619,0.006),(647,-0.002),(671,-0.01),(703,0.0007),(741,0.0033),(788,0.002),(835,0.0007),(872,-0.0007),(900,-0.01),(938,-0.0007),(985,0.006),(1032,0.008),(1079,0.0073),(1126,0.0087),(1173,0.0107),(1219,0.0127),(1266,0.014),(1313,0.012),(1360,0.01),(1407,0.0113),(1454,0.0047),(1501,0.004),(1548,0.0047),(1595,0.004),(1642,-0.0153),(1679,-0.0073),(1712,0.0093),(1745,0.0007),(1782,-0.0047),(1829,-0.006),(1876,-0.0073),(1909,-0.015),(1946,-0.002),(1993,0.0053),(2040,0.006),(2087,0.0067),(2134,0.0127),(2181,0.0153),(2218,0.0247),(2251,0.014),(2298,0.0153),(2345,0.0127),(2392,0.0107),(2439,0.004),(2486,0.0033),(2533,0.002),(2580,-0.026),(2617,-0.002),(2664,0.006),(2711,0.0093),(2758,0.0073),(2805,0.006),(2852,0.002),(2908,0.004),(2955,0.0047),(3002,0.0073),(3048,0.014),(3095,0.02),(3142,0.022),(3189,0.0167),(3236,0.016),(3283,0.0167),(3330,0.01),(3377,0.006),(3424,0.0047),(3471,0.004),(3518,0.0047),(3565,0.0007),(3602,-0.0033),(3635,0.0007),(3682,0.0013),(3729,-0.0007),(3776,-0.0033),(3813,-0.0007),(3846,0.0047),(3893,0.0053),(3940,0.0087),(3987,0.014),(4034,0.0153),(4071,0.018),(4104,0.0127),(4150,0.0247),(4188,0.018),(4221,0.0127),(4268,0.0153),(4315,0.0113),(4362,0.0033),(4409,0.004),(4456,0.0013),(4502,-0.01),(4540,-0.0207),(4573,-0.0073),(4620,0.002),(4667,0.002),(4714,-0.0073),(4747,-0.0207),(4784,-0.0073),(4831,0.006),(4878,0.0127),(4925,0.0167),(4972,0.0193),(5018,0.022),(5065,0.0207),(5112,0.0193),(5159,0.0167),(5206,0.0153),(5253,0.0113),(5300,0.006),(5360,0.006),(5420,0.003),(5480,0.0),(5530,0.002),(5600,0.002),(5750,0.002)]
rh_z = [(0,0.004),(235,0.0047),(422,0.0053),(469,0.0093),(506,0.0107),(539,0.006),(577,0.0113),(610,0.0087),(647,0.002),(680,-0.01),(727,-0.0207),(760,-0.01),(797,-0.0113),(844,-0.0127),(891,-0.0113),(938,0.0127),(975,0.018),(1008,0.0127),(1041,0.01),(1079,0.014),(1126,0.0193),(1163,0.01),(1196,-0.0047),(1229,0.002),(1266,0.0087),(1304,0.006),(1351,0.0007),(1383,-0.0113),(1416,-0.002),(1454,0.0167),(1491,0.014),(1524,0.006),(1571,0.0113),(1604,0.006),(1642,-0.0047),(1688,-0.014),(1735,-0.018),(1782,-0.0187),(1829,-0.0193),(1876,-0.02),(1914,-0.0047),(1946,0.018),(1979,0.0127),(2017,0.0107),(2054,0.0193),(2092,0.0087),(2134,0.0207),(2167,0.0127),(2204,-0.0007),(2242,0.022),(2279,0.018),(2322,-0.0033),(2354,0.0167),(2392,0.0087),(2439,0.018),(2476,0.006),(2509,0.014),(2556,0.006),(2603,-0.0073),(2636,-0.031),(2664,-0.0073),(2697,-0.006),(2744,-0.0087),(2790,-0.0113),(2837,-0.006),(2884,0.006),(2917,0.0127),(2955,0.018),(3002,0.0087),(3048,0.0233),(3086,0.0127),(3124,0.006),(3166,0.0167),(3203,0.022),(3245,0.0127),(3283,0.0193),(3320,0.006),(3353,-0.006),(3400,0.0113),(3447,0.0167),(3494,0.0087),(3541,-0.0007),(3588,-0.014),(3621,-0.0233),(3658,-0.0167),(3705,-0.0153),(3752,-0.016),(3790,-0.0113),(3836,0.006),(3883,0.0153),(3930,0.016),(3963,0.014),(4010,0.0253),(4043,0.0167),(4080,0.006),(4118,0.018),(4155,0.014),(4197,0.006),(4235,0.0167),(4268,0.0087),(4306,-0.002),(4338,0.0033),(4371,0.0153),(4409,0.006),(4446,-0.0007),(4479,-0.0073),(4526,-0.0113),(4573,-0.01),(4620,-0.0233),(4667,-0.01),(4700,0.006),(4737,-0.0007),(4784,0.0153),(4831,0.0213),(4868,0.0127),(4906,0.0233),(4943,0.0193),(4972,0.002),(5009,0.022),(5046,0.0127),(5074,0.0307),(5112,0.0207),(5150,0.006),(5183,0.0193),(5216,0.022),(5253,0.002),(5290,0.0247),(5340,0.02),(5400,0.012),(5450,0.02),(5500,0.01),(5550,0.005),(5620,0.007),(5750,0.007)]

titles = ['Marker LUpperArm', 'Marker RUpperArm', 'Marker LForeArm',
          'Marker RForeArm', 'Marker LHand', 'Marker RHand']
series = [(lu_x, lu_y, lu_z), (ru_x, ru_y, ru_z), (lf_x, lf_y, lf_z),
          (rf_x, rf_y, rf_z), (lh_x, lh_y, lh_z), (rh_x, rh_y, rh_z)]
ylims = [(-0.1, 0.05), (-0.099, 0.058), (-0.1, 0.059),
         (-0.104, 0.102), (-0.05, 0.05), (-0.04, 0.031)]
yticks = [[-0.1, -0.05, 0, 0.05], [-0.1, -0.05, 0, 0.05], [-0.1, -0.05, 0, 0.05],
          [-0.1, 0, 0.1], [-0.05, 0, 0.05], [-0.04, -0.02, 0, 0.02]]
names = ['X', 'Y', 'Z']
colors = ['#ff0000', '#0000ff', '#00ff00']

# layout (figure fractions)
col_left = [0.0854, 0.578]
col_w = [0.3714, 0.3723]
row_bottom = [0.7149, 0.3971, 0.0758]
row_h = [0.2014, 0.2002, 0.2014]
leg_anchor = [(0.4856, 0.9965), (0.9991, 0.994), (0.490, 0.663),
              (0.9991, 0.6516), (0.476, 0.339), (0.9991, 0.339)]

fmt = FuncFormatter(lambda v, p: '%g' % round(v, 4))
dark = '#262626'

fig = plt.figure(figsize=(11.47, 8.84), dpi=100)
for i in range(6):
    r, c = divmod(i, 2)
    ax = fig.add_axes([col_left[c], row_bottom[r], col_w[c], row_h[r]])
    for data, name, col in zip(series[i], names, colors):
        arr = np.array(data)
        ax.plot(arr[:, 0], arr[:, 1], color=col, lw=1.7, label=name)
    ax.set_xlim(0, 6000)
    ax.set_ylim(*ylims[i])
    ax.set_xticks([0, 2000, 4000, 6000])
    ax.set_yticks(yticks[i])
    ax.yaxis.set_major_formatter(fmt)
    ax.grid(True, color='#dcdcdc', lw=0.8)
    ax.set_axisbelow(True)
    for sp in ax.spines.values():
        sp.set_color(dark)
        sp.set_linewidth(0.8)
    ax.tick_params(direction='in', length=4, width=0.8, top=True, right=True,
                   labelsize=15, colors=dark)
    ax.tick_params(axis='x', pad=7)
    ax.tick_params(axis='y', pad=5)
    ax.set_title(titles[i], fontsize=16.5, fontweight='bold', pad=7)
    ax.set_xlabel('sample', fontsize=16.5, color=dark)
    ax.xaxis.set_label_coords(0.5, -0.25)
    ax.set_ylabel('(RealM-VirtualM)[m]', fontsize=18, color=dark)
    ax.yaxis.set_label_coords(-0.146, 0.5)
    leg = ax.legend(loc='upper right', bbox_to_anchor=leg_anchor[i],
                    bbox_transform=fig.transFigure, fancybox=False,
                    edgecolor=dark, framealpha=1, fontsize=14,
                    handlelength=2.6, handletextpad=0.2, borderpad=0.35,
                    labelspacing=0.72, borderaxespad=0)
    leg.get_frame().set_linewidth(0.8)

fig.savefig('out.png', dpi=100)
